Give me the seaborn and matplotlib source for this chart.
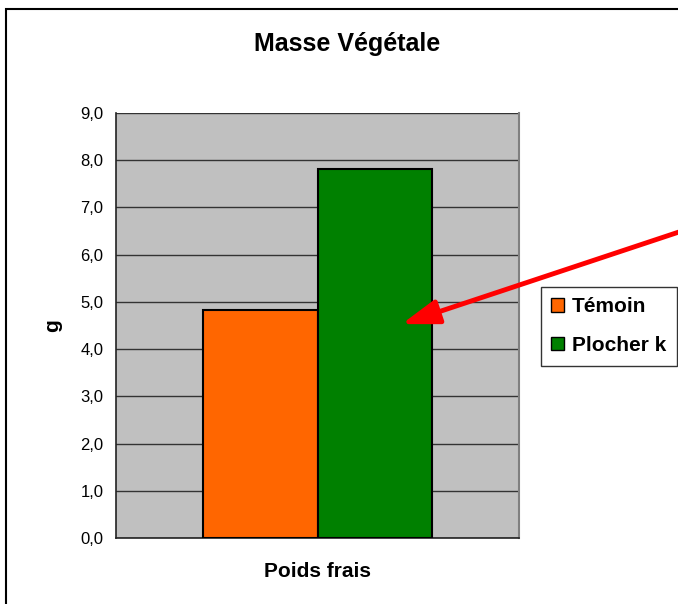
import matplotlib
matplotlib.use("Agg")
import matplotlib.pyplot as plt
import seaborn as sns
import pandas as pd
from matplotlib.patches import Rectangle, FancyArrowPatch
from matplotlib.ticker import FixedLocator

# data
categories = ["Poids frais", "Poids frais"]
series = ["Témoin", "Plocher k"]
values = [4.82, 7.82]
colors = ["#FF6600", "#008000"]
y_ticks = [0, 1, 2, 3, 4, 5, 6, 7, 8, 9]
y_tick_labels = ["0,0", "1,0", "2,0", "3,0", "4,0", "5,0", "6,0", "7,0", "8,0", "9,0"]

df = pd.DataFrame({"cat": categories, "serie": series, "val": values})

sns.set_style("white")
plt.rcParams["font.family"] = ["Liberation Sans", "DejaVu Sans"]
plt.rcParams["text.color"] = "black"
plt.rcParams["axes.labelcolor"] = "black"
plt.rcParams["xtick.color"] = "black"
plt.rcParams["ytick.color"] = "black"

fig = plt.figure(figsize=(6.78, 6.04), dpi=100)
ax = fig.add_axes([116 / 678, 1 - 538 / 604, 403 / 678, 425 / 604])
ax.set_facecolor("#C0C0C0")

sns.barplot(data=df, x="cat", y="val", hue="serie", hue_order=series,
            palette=colors, width=0.57, edgecolor="black", linewidth=1.5,
            saturation=1, ax=ax, zorder=3)

ax.set_xlim(-0.5, 0.5)
ax.set_ylim(0, 9)
ax.set_yticks(y_ticks)
ax.set_yticklabels(y_tick_labels, fontsize=12)
ax.yaxis.grid(True, color="#333333", linewidth=1, zorder=1)
ax.set_axisbelow(True)

# category axis: ticks at the borders of the category
ax.set_xticks([0])
ax.set_xticklabels([""])
ax.tick_params(axis="x", which="major", length=0)
ax.xaxis.set_minor_locator(FixedLocator([-0.5, 0.5]))
ax.tick_params(axis="x", which="minor", direction="out", length=6, width=1, color="#333333")
ax.tick_params(axis="y", direction="out", length=5, width=1, color="#333333", pad=4)

for s in ["left", "bottom"]:
    ax.spines[s].set_color("#222222")
    ax.spines[s].set_linewidth(1.2)
ax.spines["right"].set_visible(True)
ax.spines["right"].set_color("#808080")
ax.spines["right"].set_linewidth(1.5)
ax.spines["top"].set_visible(False)

ax.set_xlabel("Poids frais", fontsize=15, fontweight="bold", labelpad=8)
ax.set_ylabel("g", fontsize=15, fontweight="bold", labelpad=13)

fig.text(347 / 678, 1 - 44 / 604, "Masse Végétale", ha="center", va="center",
         fontsize=18, fontweight="bold")

leg = ax.legend(loc="upper left", bbox_to_anchor=(541 / 678, 1 - 287 / 604),
                bbox_transform=fig.transFigure, frameon=True, fancybox=False,
                prop={"weight": "bold", "size": 15}, handlelength=0.6,
                handleheight=0.6, handletextpad=0.4, labelspacing=0.95,
                borderpad=0.5, borderaxespad=0)
leg.get_frame().set_edgecolor("black")
leg.get_frame().set_linewidth(1)
for h in leg.legend_handles:
    h.set_edgecolor("black")
    h.set_linewidth(1)

# outer chart border (right and bottom are outside the picture)
fig.patches.append(Rectangle((6 / 678, -0.05), 1.2, 1 - 9 / 604 + 0.05,
                             transform=fig.transFigure, fill=False,
                             edgecolor="black", linewidth=1.5))

# red arrow
fig.add_artist(FancyArrowPatch(
    (700 / 678, 1 - 225 / 604), (399 / 678, 1 - 325 / 604),
    transform=fig.transFigure, arrowstyle="-|>,head_length=9,head_width=3",
    color="red", linewidth=3.5, mutation_scale=2.5, zorder=10))

fig.savefig("out.png", dpi=100)
